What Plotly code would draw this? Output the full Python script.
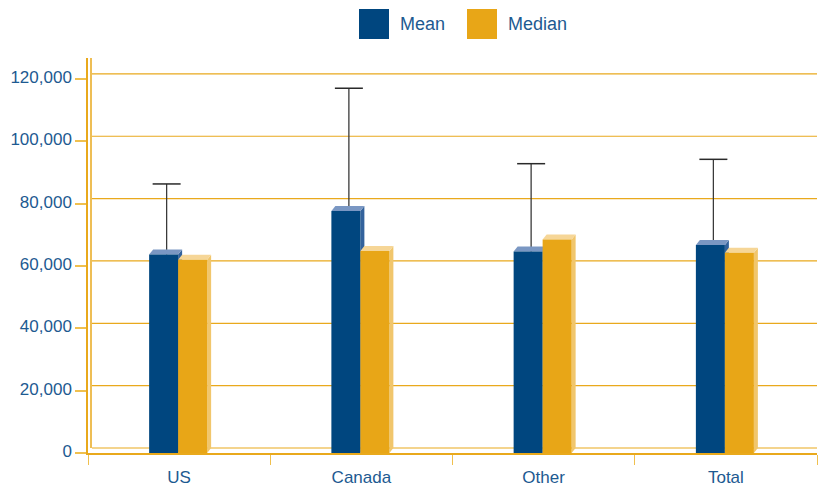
import plotly.graph_objects as go

# ---- data ----
categories = ["US", "Canada", "Other", "Total"]
mean_values = [63700, 77600, 64600, 66700]
median_values = [62000, 64800, 68500, 64200]
mean_sd = [22600, 39400, 28200, 27500]
y_ticks = [0, 20000, 40000, 60000, 80000, 100000, 120000]

# ---- geometry / style ----
W, H = 818, 487
M_L, M_R, M_T, M_B = 88, 1, 58, 34
PLOT_W = W - M_L - M_R
PLOT_H = H - M_T - M_B
X_RANGE = [-0.5, len(categories) - 0.5]
PX_PER_X = PLOT_W / (X_RANGE[1] - X_RANGE[0])
Y_MAX = 126700
PX_PER_Y = PLOT_H / Y_MAX

BAR_PX = 29          # bar face width in pixels
GROUP_SHIFT_PX = -1  # shift of the bar pair off the category centre
DEPTH_X = 4          # 3-D depth, pixels right
DEPTH_Y_PX = 5       # 3-D depth, pixels up
DEPTH_Y = DEPTH_Y_PX / PX_PER_Y

BW = BAR_PX / PX_PER_X
MEAN_OFFSET = (GROUP_SHIFT_PX - BAR_PX) / PX_PER_X
MEDIAN_OFFSET = GROUP_SHIFT_PX / PX_PER_X

BLUE = "#00467f"
BLUE_TOP = "#7a97c3"
BLUE_SIDE = "#33629c"
GOLD = "#e8a617"
GOLD_TOP = "#f6d697"
GOLD_SIDE = "#f1c66c"
GRID = "#e9a91c"
TICK = "#f0c04e"
TEXT = "#1d5a91"
FONT = "Liberation Sans"

x_idx = list(range(len(categories)))

fig = go.Figure()
fig.add_trace(go.Bar(x=x_idx, y=mean_values, width=BW, offset=MEAN_OFFSET,
                     marker=dict(color=BLUE, line=dict(width=0)),
                     name="Mean", showlegend=False))
fig.add_trace(go.Bar(x=x_idx, y=median_values, width=BW, offset=MEDIAN_OFFSET,
                     marker=dict(color=GOLD, line=dict(width=0)),
                     name="Median", showlegend=False))

shapes = []

# back-wall gridlines (shifted by the 3-D depth)
for v in y_ticks:
    shapes.append(dict(type="line", xref="paper", yref="y", layer="below",
                       x0=DEPTH_X / PLOT_W, x1=1, y0=v + DEPTH_Y, y1=v + DEPTH_Y,
                       line=dict(color=GRID, width=1.2)))
# back wall vertical edge
shapes.append(dict(type="line", xref="paper", xsizemode="pixel", xanchor=0,
                   x0=DEPTH_X - 1, x1=DEPTH_X - 1, yref="y", y0=DEPTH_Y, y1=Y_MAX,
                   layer="below", line=dict(color=GRID, width=1.5)))

half = BAR_PX / 2


def box_faces(centre, value, top_col, side_col):
    top = (f"M {-half},{value} L {-half + DEPTH_X},{value + DEPTH_Y} "
           f"L {half + DEPTH_X},{value + DEPTH_Y} L {half},{value} Z")
    side = (f"M {half},0 L {half},{value} L {half + DEPTH_X},{value + DEPTH_Y} "
            f"L {half + DEPTH_X},{DEPTH_Y} Z")
    return [
        dict(type="path", xref="x", xsizemode="pixel", xanchor=centre, yref="y",
             path=side, fillcolor=side_col, line=dict(width=0), layer="below"),
        dict(type="path", xref="x", xsizemode="pixel", xanchor=centre, yref="y",
             path=top, fillcolor=top_col, line=dict(width=0), layer="below"),
    ]


for i in x_idx:
    mc = i + MEAN_OFFSET + BW / 2
    dc = i + MEDIAN_OFFSET + BW / 2
    m, d, sd = mean_values[i], median_values[i], mean_sd[i]
    # error bar (upper only) rising from the mean bar's top face
    ex = DEPTH_X / 2 + 1
    shapes.append(dict(type="line", xref="x", xsizemode="pixel", xanchor=mc,
                       x0=ex, x1=ex, yref="y", y0=m, y1=m + sd, layer="below",
                       line=dict(color="#3a3a3a", width=1.3)))
    shapes.append(dict(type="line", xref="x", xsizemode="pixel", xanchor=mc,
                       x0=ex - 14, x1=ex + 14, yref="y", y0=m + sd, y1=m + sd,
                       layer="below", line=dict(color="#2a2a2a", width=1.5)))
    shapes += box_faces(mc, m, BLUE_TOP, BLUE_SIDE)
    shapes += box_faces(dc, d, GOLD_TOP, GOLD_SIDE)


# legend drawn at the top of the page
def px_x(px):
    return (px - M_L) / PLOT_W


def px_y(py):
    return (H - M_B - py) / PLOT_H


annotations = []
legend_items = [("Mean", BLUE, 359, 398), ("Median", GOLD, 467, 506)]
for label, col, sx, tx in legend_items:
    shapes.append(dict(type="rect", xref="paper", yref="paper",
                       x0=px_x(sx), x1=px_x(sx + 30), y0=px_y(39), y1=px_y(9),
                       fillcolor=col, line=dict(width=0)))
    annotations.append(dict(text=label, xref="paper", yref="paper",
                            x=px_x(tx), y=px_y(24), xanchor="left", yanchor="middle",
                            showarrow=False, font=dict(family=FONT, size=18, color=TEXT)))

fig.update_layout(
    width=W, height=H,
    margin=dict(l=M_L, r=M_R, t=M_T, b=M_B),
    paper_bgcolor="white", plot_bgcolor="white",
    barmode="overlay", showlegend=False,
    shapes=shapes, annotations=annotations,
    xaxis=dict(range=X_RANGE, tickvals=x_idx, ticktext=categories,
               ticks="outside", ticklen=8, tickcolor="rgba(0,0,0,0)",
               showgrid=False, zeroline=False,
               showline=True, linecolor=GRID, linewidth=1.5,
               tickfont=dict(family=FONT, size=17, color=TEXT),
               minor=dict(tickvals=[k - 0.5 for k in range(len(categories) + 1)],
                          ticks="outside", ticklen=10, tickcolor=TICK, tickwidth=1,
                          showgrid=False)),
    yaxis=dict(range=[0, Y_MAX], tickvals=y_ticks, tickformat=",",
               ticks="outside", ticklen=11, tickcolor=TICK, tickwidth=1.5,
               ticklabelshift=-2,
               showgrid=False, zeroline=False,
               showline=True, linecolor=GRID, linewidth=1.5,
               tickfont=dict(family=FONT, size=17, color=TEXT)),
)

fig.write_html("out.html")
